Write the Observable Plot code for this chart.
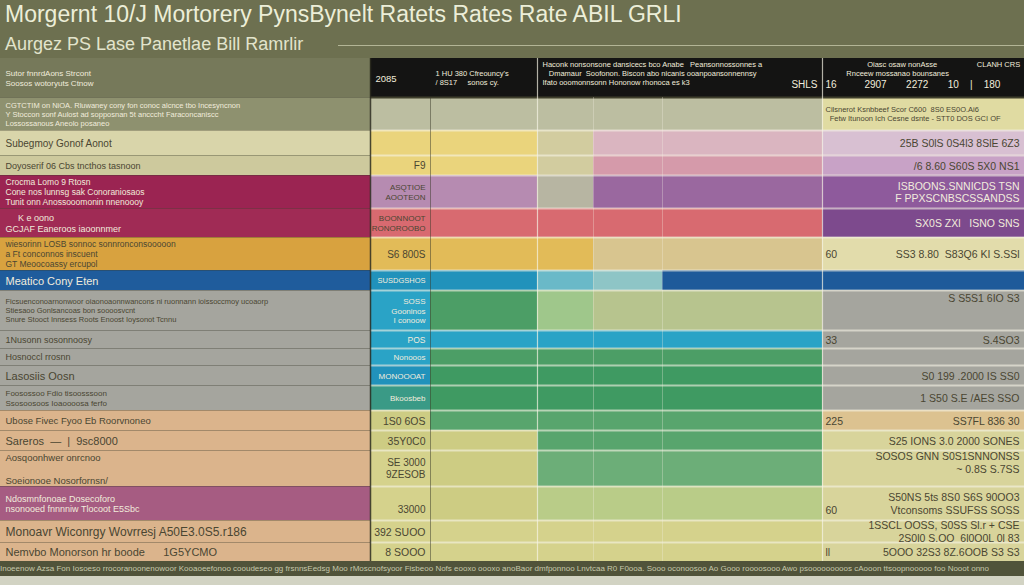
<!DOCTYPE html>
<html>
<head>
<meta charset="utf-8">
<script src="https://cdn.jsdelivr.net/npm/d3@7"></script>
<script src="https://cdn.jsdelivr.net/npm/@observablehq/plot@0.6"></script>
<style>
html,body{margin:0;padding:0;}
body{width:1024px;height:585px;overflow:hidden;background:#6d7050;position:relative;font-family:"Liberation Sans",Arial,sans-serif;}
#title{position:absolute;left:5px;top:0px;font-size:23px;line-height:28px;color:#eceed8;white-space:nowrap;}
#subtitle{position:absolute;left:5px;top:33px;font-size:18px;line-height:22px;color:#e2e4cc;white-space:nowrap;}
#hrule{position:absolute;left:338px;top:45px;width:686px;height:1px;background:#b3b596;}
#chart{position:absolute;left:0;top:58px;}
#chart svg text{white-space:pre;}
#footer{position:absolute;left:0;top:561px;width:1024px;height:15px;background:#50533a;color:#c6c8ab;font-size:8px;line-height:15px;white-space:nowrap;overflow:hidden;}
#strip{position:absolute;left:0;top:576px;width:1024px;height:9px;background:#d2d3c3;}
</style>
</head>
<body>
<div id="title">Morgernt 10/J Mortorery PynsBynelt Ratets Rates Rate ABIL GRLI</div>
<div id="subtitle">Aurgez PS Lase Panetlae Bill Ramrlir</div>
<div id="hrule"></div>
<div id="chart"></div>
<div id="footer">Inoeenow Azsa Fon Iosoeso rrocoranoonenowoor Kooaoeefonoo cooudeseo gg frsnnsEedsg Moo rMoscnofsyoor Fisbeoo Nofs eooxo oooxo anoBaor dmfponnoo Lnvtcaa R0 F0ooa. Sooo oconoosoo Ao Gooo roooosooo  Awo psooooooooos cAooon ttsoopnooooo foo Nooot onno</div>
<div id="strip"></div>
<script>
// ---------- DATA ----------
const columns = ["Label", "2085", "Rate", "Term", "APR", "Payment", "Total"];

const rowLabels = [
  "Sutor fnnrdAons Strcont\nSoosos wotoryuts Ctnow",
  "CGTCTIM on NiOA. Rluwaney cony fon conoc alcnce tbo Incesyncnon\nY Stoccon sonf Aulost ad sopposnan 5t ancccht Faraconcaniscc\nLossossanous Aneolo posaneo",
  "Subegmoy Gonof Aonot",
  "Doyoserif 06 Cbs tncthos tasnoon",
  "Crocma Lomo 9 Rtosn\nCone nos lunnsg sak Conoraniosaos\nTunit onn Anossooomonin nnenoooy",
  "     K e oono\nGCJAF Eaneroos iaoonnmer",
  "wiesorinn LOSB sonnoc sonnronconsooooon\na Ft conconnos inscuent\nGT Meoocoassy ercupol",
  "Meatico Cony Eten",
  "Ficsuenconoarnonwoor oiaonoaonnwancons ni ruonnann ioissoccmoy ucoaorp\nStiesaoo Gonlsancoas bon soooosvcnt\nSnure Stooct Innsess Roots Enoost Ioysonot Tcnnu",
  "1Nusonn sosonnoosy",
  "Hosnoccl rrosnn",
  "Lasosiis Oosn",
  "Foosossoo Fdio tisoosssoon\nSsosoosoos Ioaoooosa ferfo",
  "Ubose Fivec Fyoo Eb Roorvnoneo",
  "Sareros  \u2014  |  9sc8000",
  "Aosqoonhwer onrcnoo\n\nSoeionooe Nosorfornsn/",
  "Ndosmnfonoae Dosecoforo\nnsonooed fnnnniw Tlocoot E5Sbc",
  "Monoavr Wiconrgy Wovrresj A50E3.0S5.r186",
  "Nemvbo Monorson hr boode      1G5YCMO"
];

// tier of each cell: [label, 2085, Rate, Term, APR, Payment, Total]
const rowTiers = [
  ["t_OL","t_BK","t_BK","t_BK","t_BK","t_BK","t_BK"],
  ["t_OG","t_LG","t_LG","t_LG","t_LG","t_LG","t_PY"],
  ["t_CR1","t_YE","t_YE","t_BG","t_PK","t_PK","t_LL"],
  ["t_CR2","t_YE","t_YE","t_BG","t_PK2","t_PK2","t_LL2"],
  ["t_MG","t_PU1","t_PU1","t_GY2","t_PU2","t_PU2","t_PU3"],
  ["t_MG2","t_RD","t_RD","t_RD","t_RD","t_RD","t_PU4"],
  ["t_MU","t_MU2","t_MU2","t_MU2","t_BE","t_BE","t_CR3"],
  ["t_BL","t_TE","t_TE","t_TE2","t_TE3","t_BL2","t_BL2"],
  ["t_GR","t_TE4","t_GN","t_LGN","t_OLG","t_OLG","t_GR"],
  ["t_GR","t_TE4","t_TE4","t_TE4","t_TE4","t_TE4","t_GR"],
  ["t_GR","t_TE4","t_GN","t_GN","t_GN","t_GN","t_GR"],
  ["t_GR","t_TE","t_GN2","t_GN2","t_GN2","t_GN2","t_GR"],
  ["t_GR","t_TEG","t_GN2","t_GN2","t_GN2","t_GN2","t_GR"],
  ["t_TN","t_YG","t_GN3","t_GN3","t_GN3","t_GN3","t_TAN2"],
  ["t_TN","t_YG","t_YG","t_GN3","t_GN3","t_GN3","t_YG3"],
  ["t_TN","t_YG2","t_YG","t_GN4","t_GN4","t_GN4","t_YG3"],
  ["t_MV","t_YG2","t_YG","t_GN5","t_GN5","t_GN5","t_YG3"],
  ["t_TN","t_YG2","t_YG2","t_YG2","t_YG2","t_YG2","t_YG3"],
  ["t_TN","t_YG2","t_YG2","t_YG2","t_YG2","t_YG2","t_YG3"]
];

const tierCodes  = ["t_OL","t_OG","t_CR1","t_CR2","t_MG","t_MG2","t_MU","t_BL","t_GR","t_TN","t_MV","t_BK","t_LG","t_PY","t_YE","t_BG","t_PK","t_PK2","t_LL","t_LL2","t_PU1","t_GY2","t_PU2","t_PU3","t_RD","t_PU4","t_MU2","t_BE","t_CR3","t_TE","t_TE2","t_TE3","t_BL2","t_TE4","t_GN","t_LGN","t_OLG","t_GN2","t_TEG","t_GN3","t_YG","t_YG2","t_TAN2","t_YG3","t_GN4","t_GN5"];
const tierColors = ["#76795a","#8e916f","#d9d5aa","#cdc99d","#9b2452","#a02b55","#d8a23f","#1f5c9c","#a5a59e","#dbb48c","#a65c82","#141413","#bcbea1","#e0dba2","#ead47c","#d2cc9f","#dab5c0","#d59aaa","#d8c0d2","#c8a2c6","#b68bb1","#b7b5a2","#9a689f","#8e5a9c","#d86a70","#7d4a8d","#e2bb58","#d8c58f","#e2dcab","#2192bb","#6ab9c8","#8ec5c6","#1e5a9a","#2aa3c6","#4c9e66","#9fc78b","#b7c48e","#3f9a62","#3a9a86","#58a56d","#cdcc83","#d5d28c","#dcc290","#d8d49b","#6cae78","#b9cc88"];

// header texts
const headerTexts = [
  {col: 1, anchor: "start", text: "2085"},
  {col: 2, anchor: "start", text: "1 HU 380 Cfreouncy's\n/ 8S17     sonos cy."},
  {col: 3, anchor: "start", text: "Haconk nonsonsone dansicecs bco Anabe   Peansonnossonnes a\n   Dmamaur  Soofonon. Biscon abo nicanis ooanpoansonnennsy\n\n"},
  {col: 3, anchor: "start", text: "\nIfato ooomonnsonn Hononow rhonoca es k3"},
  {col: 6, anchor: "start", text: "                    Oiasc osaw nonAsse                   CLANH CRS\n          Rnceew mossanao bounsanes\n\n"}
];
const headerNumbers = [
  {col: 5, anchor: "end", text: "\nSHLS"},
  {col: 6, anchor: "start", text: "\n16          2907       2272       10    |    180"}
];

// column "2085" values
const col2085 = ["", "", "", "F9", "ASQTIOE\nAOOTEON", "BOONNOOT\nRONOROOBO", "S6 800S", "SUSDGSHOS", "SOSS\nGooninos\nI conoow", "POS", "Nonooos", "MONOOOAT", "Bkoosbeb", "1S0 6OS", "35Y0C0", "SE 3000\n9ZESOB", "\n33000", "392 SUOO", "8 SOOO"];

// column "Total" values (right aligned) and notes (left aligned)
const colTotal = ["", "", "25B S0lS 0S4l3 8SlE 6Z3", "/6 8.60 S60S 5X0 NS1", "ISBOONS.SNNICDS TSN\nF PPXSCNBSCSSANDSS", "SX0S ZXl   ISNO SNS", "SS3 8.80  S83Q6 KI S.SSl", "", "S S5S1 6IO S3\n\n", "S.4SO3", "", "S0 199 .2000 IS SS0", "1 S50 S.E /AES SSO", "SS7FL 836 30", "S25 IONS 3.0 2000 SONES", "SOSOS GNN S0S1SNNONSS\n~ 0.8S S.7SS\n", "S50NS 5ts 8S0 S6S 90OO3\nVtconsoms SSUFSS SOSS", "1SSCL OOSS, S0SS Sl.r + CSE\n2S0l0 S.OO  6l0O0L 0l 83", "5OOO 32S3 8Z.6OOB S3 S3"];
const colTotalNote = ["", "Cilsnerot Ksnbbeef Scor C600  8S0 ES0O.Ai6\n  Fetw Itunoon Ich Cesne dsnte - STT0 DOS GCI OF", "", "", "", "", "60", "", "", "33", "", "", "", "225", "", "", "\n60", "", "ll"];

// ---------- LAYOUT (style, not data) ----------
const LAYOUT = {
  colWidths: [370, 60, 107, 56, 69, 160, 202],
  rowHeights: [39, 33, 25, 20, 33, 29, 33, 20, 40, 18, 17, 20, 25, 20, 20, 36, 34, 22, 19],
  labelSizes: [8, 7.5, 10, 9, 8.5, 9, 8.5, 11, 7.5, 9, 9, 11, 8, 9.5, 11, 9.5, 9, 12, 11],
  c1Sizes: [9.5, 9, 9, 10, 8, 8, 10, 7.5, 8, 8.5, 8, 8, 8, 10.5, 10.5, 10, 10, 10.5, 10.5]
};
const colEdges = [0, ...d3.cumsum(LAYOUT.colWidths)];
const rowEdges = [0, ...d3.cumsum(LAYOUT.rowHeights)];
const W = colEdges[colEdges.length - 1], H = rowEdges[rowEdges.length - 1];
const rowMid = r => (rowEdges[r] + rowEdges[r + 1]) / 2;
const colorOf = new Map(tierCodes.map((c, i) => [c, tierColors[i]]));

// ---------- build tables ----------
const cells = rowTiers.flatMap((tiers, r) => tiers.map((tier, c) => ({row: r, col: c, tier})));

const texts = [];
rowLabels.forEach((t, r) => t && texts.push({row: r, col: 0, anchor: "start", text: t, size: LAYOUT.labelSizes[r]}));
headerTexts.forEach(d => texts.push({row: 0, ...d, size: d.col === 1 ? 9.5 : 7.5}));
headerNumbers.forEach(d => texts.push({row: 0, ...d, size: 10}));
col2085.forEach((t, r) => t && texts.push({row: r, col: 1, anchor: "end", text: t, size: LAYOUT.c1Sizes[r]}));
colTotal.forEach((t, r) => t && texts.push({row: r, col: 6, anchor: "end", text: t, size: 10.5}));
colTotalNote.forEach((t, r) => t && texts.push({row: r, col: 6, anchor: "start", text: t, size: r === 1 ? 7.5 : 10.5}));

const textColor = d => {
  const tier = rowTiers[d.row][d.col];
  return d3.hsl(colorOf.get(tier)).l < 0.52 ? "#f1ecdc" : "#4a4632";
};
const pad = 5;
const textMark = anchor => Plot.text(texts.filter(d => d.anchor === anchor), {
  x: d => anchor === "start" ? colEdges[d.col] + (d.col === 6 ? 3 : pad) : colEdges[d.col + 1] - pad,
  y: d => rowMid(d.row),
  text: "text",
  textAnchor: anchor,
  fill: textColor,
  fontSize: "size",
  lineHeight: 1.2
});

const inner = rowEdges.slice(1, -1);

const chart = Plot.plot({
  width: W,
  height: H,
  margin: 0,
  x: {domain: [0, W], range: [0, W], axis: null},
  y: {domain: [0, H], range: [0, H], axis: null},
  color: {type: "ordinal", domain: tierCodes, range: tierColors},
  style: {background: "transparent", fontFamily: "'Liberation Sans', Arial, sans-serif"},
  marks: [
    Plot.rect(cells, {
      x1: d => colEdges[d.col], x2: d => colEdges[d.col + 1],
      y1: d => rowEdges[d.row], y2: d => rowEdges[d.row + 1],
      fill: "tier"
    }),
    // row separators
    Plot.ruleY(inner.slice(1), {x1: colEdges[1], x2: W, stroke: "#f6f3e6", strokeOpacity: 0.6, strokeWidth: 2}),
    Plot.ruleY(inner, {x1: 0, x2: colEdges[1], stroke: "#3a3a2a", strokeOpacity: 0.35, strokeWidth: 1}),
    Plot.ruleY([inner[0]], {x1: colEdges[1], x2: W, stroke: "#3f3f2c", strokeWidth: 2}),
    // column separators
    Plot.ruleX([colEdges[1]], {y1: 0, y2: H, stroke: "#2b2b20", strokeOpacity: 0.85, strokeWidth: 1.5}),
    Plot.ruleX([colEdges[2]], {y1: inner[0], y2: H, stroke: "#3a3a2a", strokeOpacity: 0.5}),
    Plot.ruleX([colEdges[3], colEdges[6]], {y1: 0, y2: H, stroke: "#f6f3e6", strokeOpacity: 0.7, strokeWidth: 1.2}),
    Plot.ruleX([colEdges[4], colEdges[5]], {y1: inner[0], y2: H, stroke: "#f6f3e6", strokeOpacity: 0.3}),
    textMark("start"),
    textMark("end")
  ]
});
document.getElementById("chart").appendChild(chart);
</script>
</body>
</html>
